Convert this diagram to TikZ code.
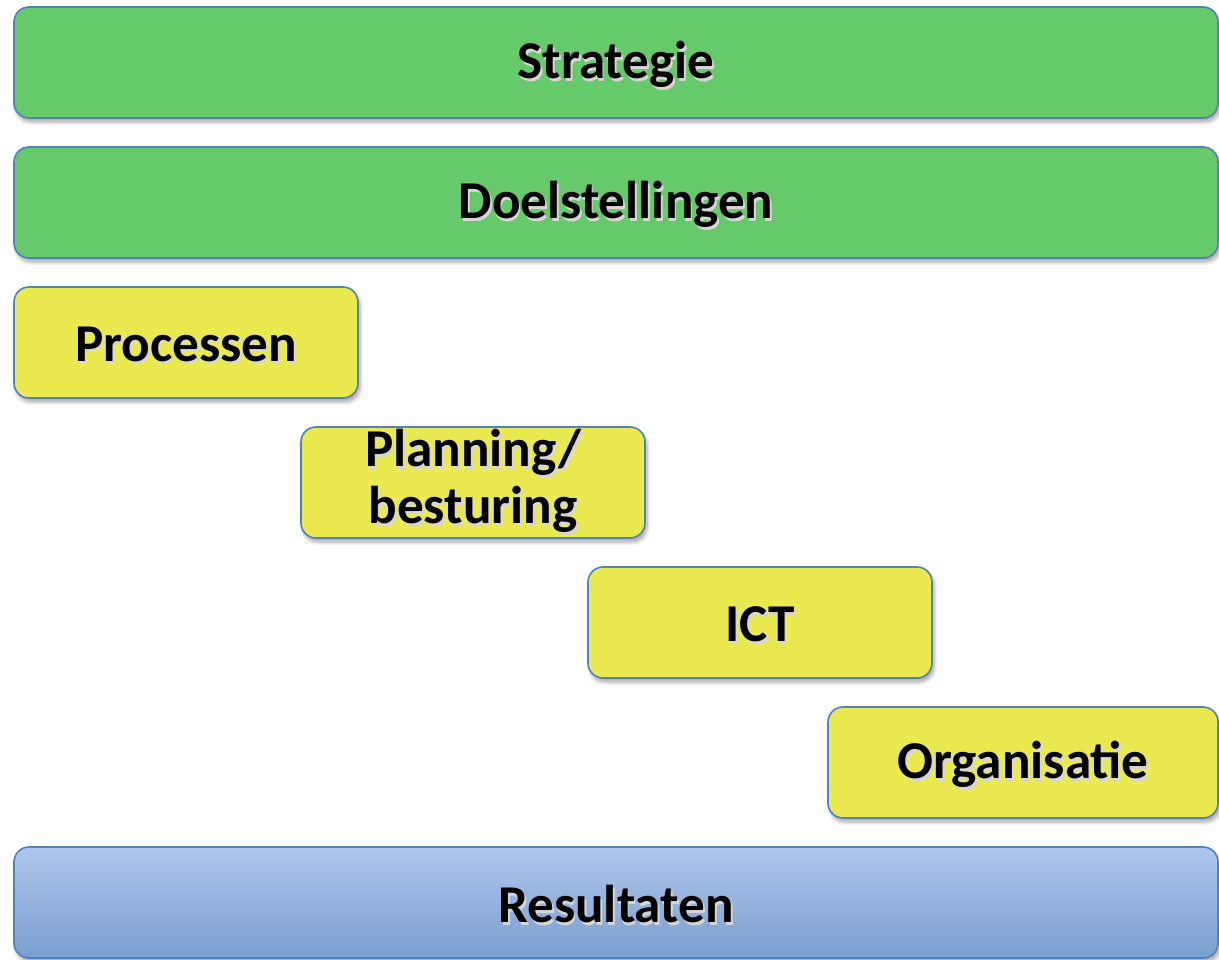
\documentclass[tikz,border=0pt]{standalone}
\usepackage{fontspec}
\setmainfont{Carlito}
\usetikzlibrary{shadows.blur}

\definecolor{layergreen}{RGB}{102,201,106}
\definecolor{layeryellow}{RGB}{235,233,80}
\definecolor{edgeblue}{RGB}{79,129,189}
\definecolor{restop}{RGB}{176,198,236}
\definecolor{resbottom}{RGB}{121,159,207}

% text with a soft drop shadow; optional arg pushes it down in the box
\newcommand{\shtext}[2][3pt]{\leavevmode\raisebox{0pt}[\dimexpr\height+#1\relax][\depth]{\rlap{\kern0.9pt\raisebox{-1.4pt}{\color{black!16}#2}}#2}}

\begin{document}
\begin{tikzpicture}[x=0.5pt, y=-0.5pt,
    layer/.style={draw=edgeblue, line width=0.8pt, rounded corners=7.5pt,
      minimum height=55.5pt, inner sep=0pt,
      font=\fontsize{26.6}{28.5}\selectfont\bfseries,
      blur shadow={shadow xshift=1pt, shadow yshift=-2pt, shadow opacity=35, shadow blur steps=6}},
    wide/.style={layer, minimum width=602pt},
    part/.style={layer, fill=layeryellow, minimum width=172pt}]
      \useasboundingbox (0,0) rectangle (1219,959);

      % top layers
      \node[wide, fill=layergreen] (strategie) at (616,62.5) {\shtext{Strategie}};
      \node[wide, fill=layergreen] (doelen) at (616,202.5) {\shtext{Doelstellingen}};

      % staircase
      \node[part] (processen) at (186,342.5) {\shtext{Processen}};
      \node[part, align=center] (planning) at (473,482.5) {\shtext[0pt]{Planning/}\\\shtext[0pt]{besturing}};
      \node[part] (ict) at (760,622.5) {\shtext{ICT}};
      \node[part, minimum width=195pt] (organisatie) at (1023,762.5) {\shtext{Organisatie}};

      % bottom layer
      \node[wide, top color=restop, bottom color=resbottom] (resultaten) at (616,902.5) {\shtext{Resultaten}};
    \end{tikzpicture}
\end{document}
